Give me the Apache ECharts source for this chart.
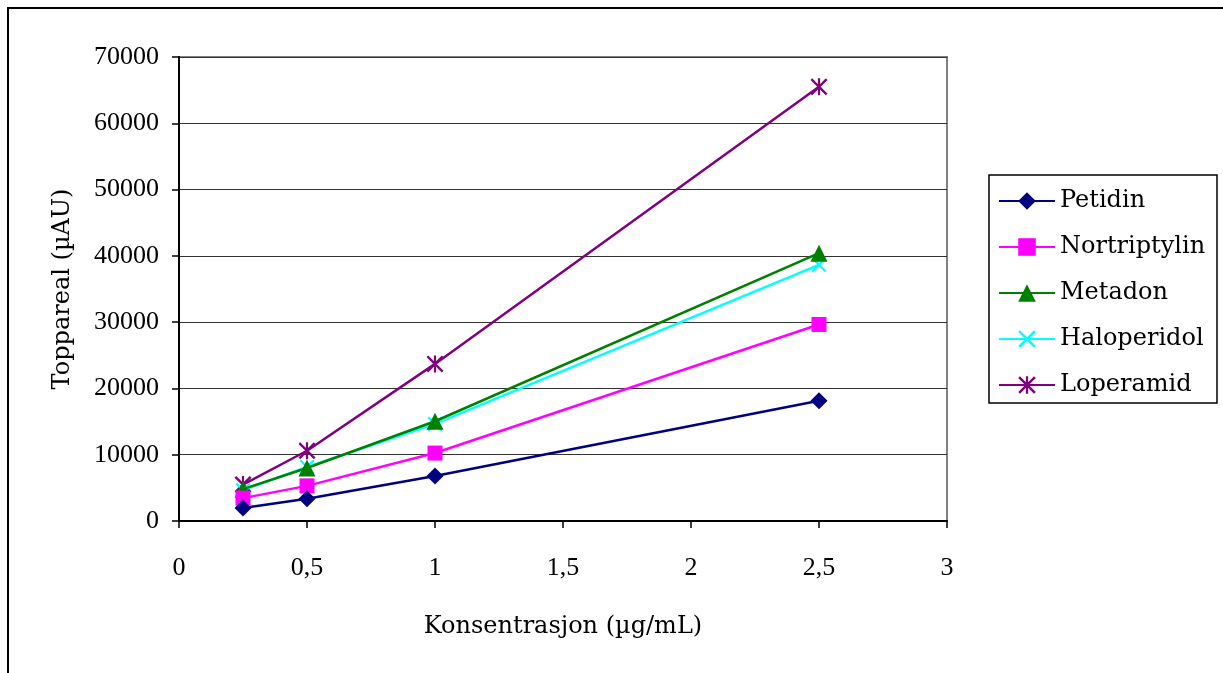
<!DOCTYPE html>
<html>
<head>
<meta charset="utf-8">
<script src="https://cdn.jsdelivr.net/npm/echarts@6/dist/echarts.min.js"></script>
<style>
  html, body { margin: 0; padding: 0; background: #fff; }
  #chart { width: 1223px; height: 673px; }
</style>
</head>
<body>
<div id="chart"></div>
<script>
// Concentrations (µg/mL)
const konsentrasjon = [0.25, 0.5, 1, 2.5];

// Peak areas (µAU) per substance
const petidin      = [1950, 3350, 6800, 18150];
const nortriptylin = [3450, 5300, 10250, 29650];
const metadon      = [4800, 8000, 15050, 40400];
const haloperidol  = [4650, 8150, 14650, 38650];
const loperamid    = [5500, 10600, 23700, 65500];

const seriesNames = ['Petidin', 'Nortriptylin', 'Metadon', 'Haloperidol', 'Loperamid'];
const seriesValues = [petidin, nortriptylin, metadon, haloperidol, loperamid];
const seriesColors = ['#000080', '#FF00FF', '#008000', '#00FFFF', '#800080'];

// Marker shapes
const crossPath = 'path://M0,1L1,0L5,4L9,0L10,1L6,5L10,9L9,10L5,6L1,10L0,9L4,5Z';
const starPath = 'path://M0,1L1,0L5,4L9,0L10,1L6,5L10,9L9,10L5,6L1,10L0,9L4,5Z M4.35,0L5.65,0L5.65,10L4.35,10Z';
const seriesSymbols = ['diamond', 'rect', 'triangle', crossPath, starPath];
const seriesSymbolSizes = [17, 15, 17, 15, 17];

const numFont = 'Liberation Serif';
const textFont = 'DejaVu Serif';
const chart = echarts.init(document.getElementById('chart'));

chart.setOption({
  animation: false,
  backgroundColor: '#ffffff',
  grid: {
    left: 179, top: 57, right: 276, bottom: 152,
    show: true,
    borderColor: '#808080',
    borderWidth: 2,
    backgroundColor: '#ffffff'
  },
  legend: {
    orient: 'vertical',
    left: 998,
    top: 189,
    padding: 0,
    itemWidth: 56,
    itemHeight: 22,
    itemGap: 22,
    textStyle: { fontFamily: textFont, fontSize: 24, color: '#000' },
    data: seriesNames
  },
  xAxis: {
    type: 'value',
    min: 0, max: 3, interval: 0.5,
    name: 'Konsentrasjon (µg/mL)',
    nameLocation: 'middle',
    nameGap: 94,
    nameTextStyle: { fontFamily: textFont, fontSize: 24, color: '#000' },
    axisLine: { show: true, onZero: false, lineStyle: { color: '#000', width: 2 } },
    axisTick: { show: true, length: 7, lineStyle: { color: '#000', width: 1.5 } },
    axisLabel: {
      margin: 34,
      fontFamily: numFont, fontSize: 26, color: '#000',
      formatter: v => String(v).replace('.', ',')
    },
    splitLine: { show: false }
  },
  yAxis: {
    type: 'value',
    min: 0, max: 70000, interval: 10000,
    name: 'Toppareal (µAU)',
    nameLocation: 'middle',
    nameGap: 104,
    nameTextStyle: { fontFamily: textFont, fontSize: 24, color: '#000' },
    axisLine: { show: true, lineStyle: { color: '#000', width: 2 } },
    axisTick: { show: true, length: 7, lineStyle: { color: '#000', width: 1.5 } },
    axisLabel: { margin: 20, fontFamily: numFont, fontSize: 26, color: '#000', formatter: v => String(v) },
    splitLine: { show: true, lineStyle: { color: '#333', width: 1 } }
  },
  graphic: [
    {
      type: 'rect',
      shape: { x: 8, y: 8, width: 1400, height: 1000 },
      style: { fill: 'none', stroke: '#000', lineWidth: 2 },
      silent: true
    },
    {
      type: 'rect',
      shape: { x: 989, y: 175, width: 228, height: 228 },
      style: { fill: 'none', stroke: '#000', lineWidth: 1.5 },
      silent: true
    }
  ],
  series: seriesNames.map((name, i) => ({
    name: name,
    type: 'line',
    data: konsentrasjon.map((c, j) => [c, seriesValues[i][j]]),
    symbol: seriesSymbols[i],
    symbolSize: seriesSymbolSizes[i],
    showAllSymbol: true,
    color: seriesColors[i],
    lineStyle: { color: seriesColors[i], width: 2.5 },
    itemStyle: { color: seriesColors[i], opacity: 1 },
    z: 3 + (4 - i)
  }))
});
</script>
</body>
</html>
